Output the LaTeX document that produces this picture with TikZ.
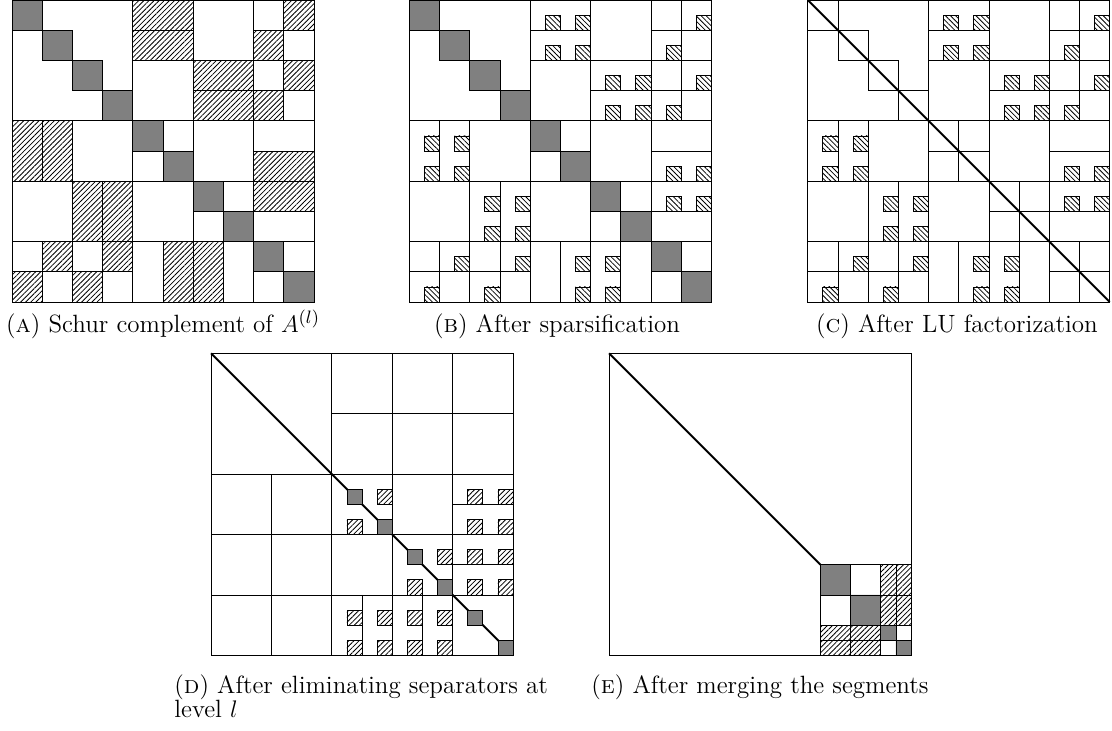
\documentclass[tikz,border=0pt]{standalone}
\usepackage{fontspec}
\usetikzlibrary{patterns.meta}

\tikzset{
  pivot/.style={draw, fill=black!50},
  hatchne/.style={draw, pattern={Lines[angle=45,distance=1.8pt,line width=0.4pt]}},
  hatchnw/.style={draw, pattern={Lines[angle=-45,distance=1.8pt,line width=0.4pt]}},
  lu/.style={line width=1pt},
  capt/.style={font=\fontsize{12.5}{12}\selectfont, anchor=base, inner sep=0pt}
}

% block outlines shared by panels (a)--(c)
\newcommand{\blocklayout}{%
  \draw (0,0) rectangle (10,10);
  \draw (0,0) rectangle (4,4);
  % rows 0-3
  \draw (4,0) rectangle (6,1) (4,1) rectangle (6,2) (4,2) rectangle (6,4);
  \draw (6,0) rectangle (8,2) (6,2) rectangle (8,3) (6,3) rectangle (8,4);
  \draw (8,0) rectangle (10,4) (9,0) -- (9,4)
        (8,1) -- (10,1) (8,2) -- (10,2) (8,3) -- (10,3);
  % rows 4-5
  \draw (0,4) rectangle (1,6) (1,4) rectangle (2,6) (2,4) rectangle (4,6)
        (4,4) rectangle (6,6) (6,4) rectangle (8,6)
        (8,4) rectangle (10,5) (8,5) rectangle (10,6);
  % rows 6-7
  \draw (0,6) rectangle (2,8) (2,6) rectangle (3,8) (3,6) rectangle (4,8)
        (4,6) rectangle (6,8) (6,6) rectangle (8,8)
        (8,6) rectangle (10,7) (8,7) rectangle (10,8);
  % rows 8-9
  \draw (0,8) rectangle (4,10) (0,9) -- (4,9)
        (1,8) -- (1,10) (2,8) -- (2,10) (3,8) -- (3,10);
  \draw (4,8) rectangle (5,10) (5,8) rectangle (6,10) (6,8) rectangle (7,10)
        (7,8) rectangle (8,10) (8,8) rectangle (10,10);
}

% cells kept after sparsification (column/row)
\def\sparsecells{4/0,5/0,4/1,5/1,6/2,7/2,6/3,7/3,9/0,8/1,9/2,8/3,
  0/4,1/4,0/5,1/5,8/5,9/5,2/6,3/6,2/7,3/7,8/6,9/6,
  0/9,1/8,2/9,3/8,5/8,5/9,6/8,6/9}

\begin{document}
\begin{tikzpicture}[x=0.5pt,y=-0.5pt]
\useasboundingbox (0,0) rectangle (1112,730);

% (a) Schur complement
\begin{scope}[shift={(12,0)},scale=30.2]
\path[hatchne] (4,0) rectangle (6,1) (4,1) rectangle (6,2)
  (6,2) rectangle (8,3) (6,3) rectangle (8,4)
  (9,0) rectangle (10,1) (8,1) rectangle (9,2) (9,2) rectangle (10,3) (8,3) rectangle (9,4)
  (0,4) rectangle (1,6) (1,4) rectangle (2,6) (8,5) rectangle (10,6)
  (2,6) rectangle (3,8) (3,6) rectangle (4,8) (8,6) rectangle (10,7)
  (0,9) rectangle (1,10) (1,8) rectangle (2,9) (2,9) rectangle (3,10) (3,8) rectangle (4,9)
  (5,8) rectangle (6,10) (6,8) rectangle (7,10);
\blocklayout
\foreach \k in {0,...,9} \draw[pivot] (\k,\k) rectangle ++(1,1);
\end{scope}

% (b) sparsified
\begin{scope}[shift={(409.3,0)},scale=30.2]
\blocklayout
\foreach \c/\r in \sparsecells \draw[hatchnw] (\c+0.5,\r+0.5) rectangle (\c+1,\r+1);
\foreach \k in {0,...,9} \draw[pivot] (\k,\k) rectangle ++(1,1);
\end{scope}

% (c) LU factorized
\begin{scope}[shift={(807.7,0)},scale=30.2]
\blocklayout
\foreach \c/\r in \sparsecells \draw[hatchnw] (\c+0.5,\r+0.5) rectangle (\c+1,\r+1);
\foreach \k in {0,...,9} \draw (\k,\k) rectangle ++(1,1);
\draw[lu] (0,0) -- (10,10);
\end{scope}

% (d) separators eliminated
\begin{scope}[shift={(211,353.3)},scale=30.2]
\draw (0,0) rectangle (10,10) (0,0) rectangle (4,4);
\foreach \i in {4,6,8} {
  \draw (\i,0) rectangle ++(2,2) (\i,2) rectangle ++(2,2);
  \draw (0,\i) rectangle ++(2,2) (2,\i) rectangle ++(2,2);
  \foreach \j in {4,6,8} \draw (\i,\j) rectangle ++(2,2);
}
\draw (8,5) -- (10,5) (8,7) -- (10,7) (5,8) -- (5,10) (7,8) -- (7,10);
\draw[lu] (0,0) -- (10,10);
\foreach \c/\r in {5/4,4/5,8/4,9/4,8/5,9/5,7/6,6/7,8/6,9/6,8/7,9/7,
  4/8,5/8,4/9,5/9,6/8,7/8,6/9,7/9}
  \draw[hatchne] (\c+0.5,\r+0.5) rectangle (\c+1,\r+1);
\foreach \k in {4,...,9} \draw[pivot] (\k+0.5,\k+0.5) rectangle (\k+1,\k+1);
\end{scope}

% (e) merged segments
\begin{scope}[shift={(609,353.3)},scale=30.2]
\draw (0,0) rectangle (10,10);
\draw[lu] (0,0) -- (7,7);
\draw (8,7) rectangle (9,8) (7,8) rectangle (8,9)
  (9.5,9) rectangle (10,9.5) (9,9.5) rectangle (9.5,10);
\draw[hatchne] (9,7) rectangle (9.5,8) (9.5,7) rectangle (10,8)
  (9,8) rectangle (9.5,9) (9.5,8) rectangle (10,9)
  (7,9) rectangle (8,9.5) (8,9) rectangle (9,9.5)
  (7,9.5) rectangle (8,10) (8,9.5) rectangle (9,10);
\draw[pivot] (7,7) rectangle (8,8) (8,8) rectangle (9,9)
  (9,9) rectangle (9.5,9.5) (9.5,9.5) rectangle (10,10);
\end{scope}

% Captions
\node[capt] (capa) at (163,332) {(\textsc{a}) Schur complement of $A^{(l)}$};
\node[capt] (capb) at (557,332) {(\textsc{b}) After sparsification};
\node[capt] (capc) at (957,332) {(\textsc{c}) After LU factorization};
\node[capt, anchor=base west, align=left] (capd) at (174,717)
  {(\textsc{d}) After eliminating separators at\\level $l$};
\node[capt] (cape) at (760,693) {(\textsc{e}) After merging the segments};

\end{tikzpicture}
\end{document}
